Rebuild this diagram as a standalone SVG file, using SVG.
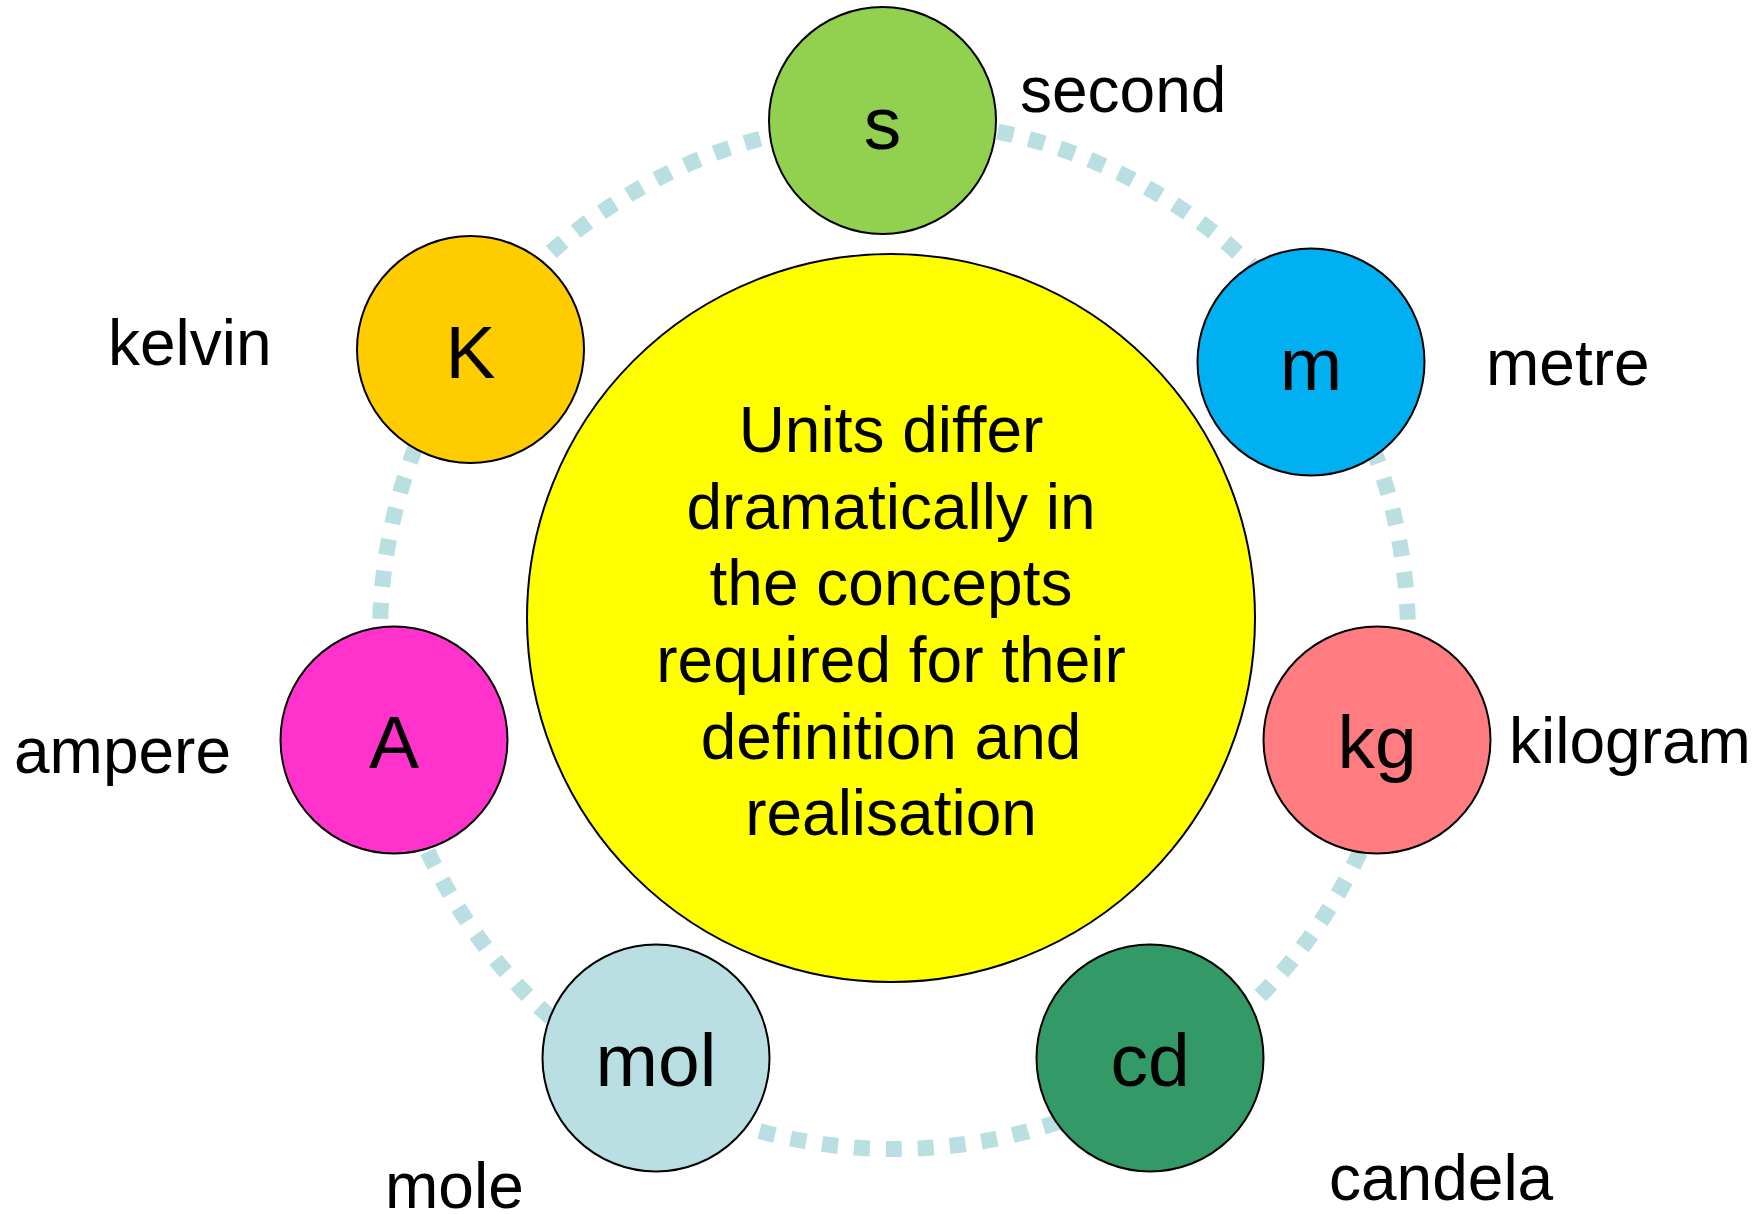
<svg xmlns="http://www.w3.org/2000/svg" width="1758" height="1214" viewBox="0 0 1758 1214">
<style>
.node{stroke:#000;stroke-width:2}
.sym{font-family:"Liberation Sans",Arial,sans-serif;font-size:75px;text-anchor:middle;fill:#000}
.lbl{font-family:"Liberation Sans",Arial,sans-serif;font-size:64px;fill:#000}
.ctr{font-family:"Liberation Sans",Arial,sans-serif;font-size:64px;text-anchor:middle;fill:#000}
</style>
<rect width="1758" height="1214" fill="#fff"/>
<g id="connectors">
<circle cx="894" cy="635" r="514" fill="none" stroke="#B9DFE3" stroke-width="16" stroke-dasharray="16 15.98"/>
</g>
<g id="center">
<circle class="node" cx="891" cy="618" r="364" fill="#FFFF00"/>
<text class="ctr" x="891" y="452">Units differ</text>
<text class="ctr" x="891" y="529">dramatically in</text>
<text class="ctr" x="891" y="605">the concepts</text>
<text class="ctr" x="891" y="682">required for their</text>
<text class="ctr" x="891" y="759">definition and</text>
<text class="ctr" x="891" y="835">realisation</text>
</g>
<g id="second">
<circle class="node" cx="882.5" cy="120.5" r="113.5" fill="#92D050"/>
<text class="sym" x="882.5" y="149">s</text>
<text class="lbl" x="1020" y="112">second</text>
</g>
<g id="metre">
<circle class="node" cx="1311" cy="362" r="113.5" fill="#00B0F0"/>
<text class="sym" x="1311" y="390">m</text>
<text class="lbl" x="1486" y="385">metre</text>
</g>
<g id="kilogram">
<circle class="node" cx="1377" cy="740" r="113.5" fill="#FF7C80"/>
<text class="sym" x="1377" y="768">kg</text>
<text class="lbl" x="1509" y="763">kilogram</text>
</g>
<g id="candela">
<circle class="node" cx="1150" cy="1058" r="113.5" fill="#339966"/>
<text class="sym" x="1150" y="1086">cd</text>
<text class="lbl" x="1329" y="1200">candela</text>
</g>
<g id="mole">
<circle class="node" cx="656" cy="1058" r="113.5" fill="#B9DFE3"/>
<text class="sym" x="656" y="1086">mol</text>
<text class="lbl" x="385" y="1208">mole</text>
</g>
<g id="ampere">
<circle class="node" cx="394" cy="740" r="113.5" fill="#FF33CC"/>
<text class="sym" x="394" y="768">A</text>
<text class="lbl" x="14" y="773">ampere</text>
</g>
<g id="kelvin">
<circle class="node" cx="470.5" cy="349.5" r="113.5" fill="#FFCC00"/>
<text class="sym" x="470.5" y="378">K</text>
<text class="lbl" x="108" y="365">kelvin</text>
</g>
</svg>
